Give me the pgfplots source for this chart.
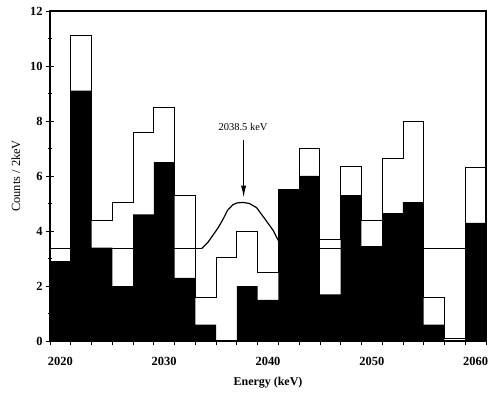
\documentclass[border=0pt]{standalone}
\usepackage{pgfplots}
\pgfplotsset{compat=1.18}
\usepackage{fontspec}
\setmainfont{Liberation Serif}
\usetikzlibrary{arrows.meta}

% bin edges 2019,2021,...,2061; last row only closes the step
\pgfplotstableread{
E     full  all
2019  2.9   2.9
2021  9.1   11.1
2023  3.4   4.4
2025  2.0   5.05
2027  4.6   7.6
2029  6.5   8.5
2031  2.3   5.3
2033  0.6   1.6
2035  0.0   3.05
2037  2.0   4.0
2039  1.5   2.5
2041  5.5   5.5
2043  6.0   7.0
2045  1.7   3.7
2047  5.3   6.35
2049  3.45  4.4
2051  4.65  6.65
2053  5.05  8.0
2055  0.6   1.6
2057  0.0   0.08
2059  4.3   6.3
2061  4.3   6.3
}\spec

\begin{document}
\begin{tikzpicture}
\begin{axis}[
  scale only axis, width=436bp, height=330bp,
  xmin=2019, xmax=2061, ymin=0, ymax=12,
  axis line style={line width=1.1bp},
  xtick={2020,2030,...,2060},
  minor xtick={2019,2021,...,2061},
  ytick={0,2,...,12}, minor ytick={1,3,...,11},
  xtick pos=left, ytick pos=left,
  xtick align=outside, ytick align=center,
  major x tick style={draw=none},
  major tick length=8bp, minor tick length=4bp,
  tick style={black, line width=0.8bp},
  /pgf/number format/1000 sep={},
  /pgf/number format/assume math mode=true,
  tick label style={font=\fontsize{12.5}{14}\selectfont\bfseries},
  xticklabel style={yshift=-5bp},
  xlabel={Energy (keV)}, ylabel={Counts / 2keV},
  xlabel style={font=\fontsize{12}{14}\selectfont\bfseries, at={(axis description cs:0.5,-0.127)}, anchor=center},
  ylabel style={font=\fontsize{12.5}{14}\selectfont, at={(axis description cs:-0.078,0.5)}, anchor=center},
]
\addplot[const plot, fill=black, draw=none] table[x=E,y=full] {\spec} \closedcycle;
\addplot[const plot, draw=black, line width=0.9bp] table[x=E,y=all] {\spec};
% background level
\addplot[black, line width=0.7bp] coordinates {(2019,3.36) (2033.6,3.36)};
\addplot[black, line width=0.7bp] coordinates {(2042.0,3.36) (2061,3.36)};
% fitted peak
\addplot[black, line width=1.2bp] coordinates {
  (2033.6,3.36) (2034.2,3.58) (2034.7,3.85) (2035.2,4.12) (2035.7,4.45)
  (2036.1,4.75) (2036.6,4.95) (2037.0,5.02) (2037.6,5.04) (2038.2,5.0) (2038.9,4.85)
  (2039.7,4.44) (2040.5,4.02) (2041.0,3.65) (2041.5,3.42) (2042.0,3.36)};
\draw[-{Latex[length=12bp,width=5bp]}, line width=1bp] (axis cs:2037.65,7.3) -- (axis cs:2037.65,5.21);
\node[font=\fontsize{10.5}{12}\selectfont] at (axis cs:2037.6,7.78) {2038.5 keV};
\end{axis}
\pgfresetboundingbox
\path ([xshift=-50bp,yshift=-56bp]current axis.south west) rectangle ([xshift=16bp,yshift=11bp]current axis.north east);
\end{tikzpicture}
\end{document}
